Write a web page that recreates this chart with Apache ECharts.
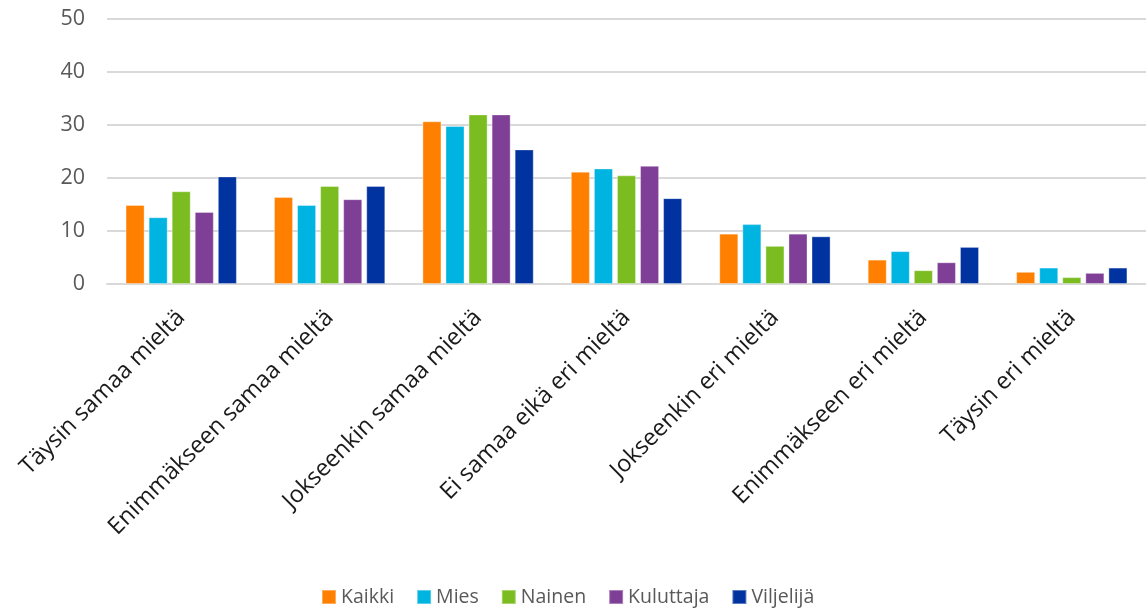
<!DOCTYPE html>
<html>
<head>
<meta charset="utf-8">
<script src="https://cdn.jsdelivr.net/npm/echarts@6/dist/echarts.min.js"></script>
<style>
  html, body { margin: 0; padding: 0; background: #fff; }
  #chart { width: 1146px; height: 609px; }
</style>
</head>
<body>
<div id="chart"></div>
<script>
// vastausvaihtoehdot
const categories = [
  'Täysin samaa mieltä',
  'Enimmäkseen samaa mieltä',
  'Jokseenkin samaa mieltä',
  'Ei samaa eikä eri mieltä',
  'Jokseenkin eri mieltä',
  'Enimmäkseen eri mieltä',
  'Täysin eri mieltä'
];

// prosentit ryhmittäin
const kaikki = [14.9, 16.4, 30.7, 21.2, 9.5, 4.6, 2.3];
const mies = [12.6, 14.9, 29.8, 21.8, 11.3, 6.2, 3.1];
const nainen = [17.5, 18.5, 32.0, 20.5, 7.2, 2.6, 1.3];
const kuluttaja = [13.6, 16.0, 32.0, 22.3, 9.5, 4.1, 2.1];
const viljelija = [20.3, 18.5, 25.4, 16.2, 9.0, 7.0, 3.1];

const yTicks = [0, 10, 20, 30, 40, 50];

const seriesDefs = [
  { name: 'Kaikki', data: kaikki, color: '#FF8000' },
  { name: 'Mies', data: mies, color: '#00B4E1' },
  { name: 'Nainen', data: nainen, color: '#7BBD21' },
  { name: 'Kuluttaja', data: kuluttaja, color: '#7F3F97' },
  { name: 'Viljelijä', data: viljelija, color: '#0033A0' }
];

const chart = echarts.init(document.getElementById('chart'));

chart.setOption({
  animation: false,
  textStyle: { fontFamily: 'Open Sans' },
  legend: {
    top: 582,
    left: 316,
    itemWidth: 14,
    itemHeight: 14,
    itemGap: 22,
    icon: 'rect',
    textStyle: { fontSize: 19.5, color: '#595959', fontFamily: 'Open Sans' },
    data: seriesDefs.map(s => s.name)
  },
  grid: {
    left: 107,
    right: 0,
    top: 19,
    bottom: 325
  },
  xAxis: {
    type: 'category',
    data: categories,
    axisLine: { lineStyle: { color: '#d9d9d9', width: 2 } },
    axisTick: { show: false },
    axisLabel: {
      interval: 0,
      rotate: 45,
      margin: 30,
      fontSize: 23.5,
      color: '#1a1a1a'
    }
  },
  yAxis: {
    type: 'value',
    min: yTicks[0],
    max: yTicks[yTicks.length - 1],
    interval: 10,
    axisLine: { show: false },
    axisTick: { show: false },
    axisLabel: { fontSize: 21.5, color: '#595959', margin: 22 },
    splitLine: { lineStyle: { color: '#d9d9d9', width: 2 } }
  },
  series: seriesDefs.map(s => ({
    name: s.name,
    type: 'bar',
    data: s.data,
    barGap: '21%',
    barCategoryGap: '25%',
    itemStyle: {
      color: s.color,
      borderColor: 'rgba(255,255,255,0.35)',
      borderWidth: 1
    }
  }))
});
</script>
</body>
</html>
